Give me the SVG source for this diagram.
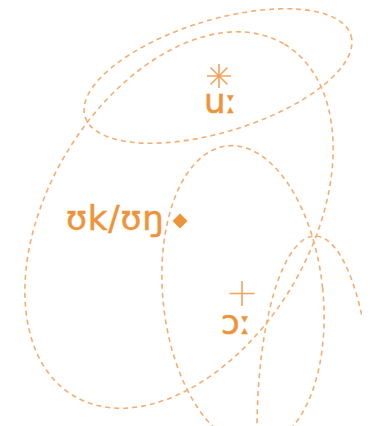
<svg xmlns="http://www.w3.org/2000/svg" width="370" height="426" viewBox="0 0 370 426">
<style>
.c{fill:none;stroke:#f4ae70;stroke-width:1.6;stroke-dasharray:5 4}
.t{fill:#ee9438;stroke:#ee9438;stroke-width:0.5;font-family:"DejaVu Sans","Noto Sans",sans-serif;font-size:34px}
.m{stroke:#f2a35c;stroke-width:1.6;fill:none}
</style>
<defs>
<clipPath id="cut"><rect x="0" y="0" width="362" height="426"/></clipPath>
</defs>
<rect width="370" height="426" fill="#ffffff"/>
<g id="connectors">
<ellipse class="c" cx="218" cy="76" rx="139" ry="56" transform="rotate(-17 218 76)"/>
<ellipse class="c" cx="179" cy="220" rx="205" ry="131" transform="rotate(-59 179 220)"/>
<ellipse class="c" cx="243" cy="296" rx="80" ry="151" transform="rotate(-6 243 296)"/>
<ellipse class="c" cx="315" cy="430" rx="58" ry="194" clip-path="url(#cut)"/>
</g>
<g id="u">
<path class="m" d="M219 64v24M207 76h24M210.5 67.5l17 17M227.5 67.5l-17 17"/>
<text class="t" x="204" y="113">uː</text>
</g>
<g id="uk">
<text class="t" x="66" y="230" letter-spacing="0.8">ʊk/ʊŋ</text>
<path d="M180 213.5l7.5 7.5-7.5 7.5-7.5-7.5z" fill="#ee9438"/>
</g>
<g id="o">
<path class="m" d="M242 281v25M229.5 293.5h25"/>
<text class="t" x="221" y="334">ɔː</text>
</g>
</svg>
